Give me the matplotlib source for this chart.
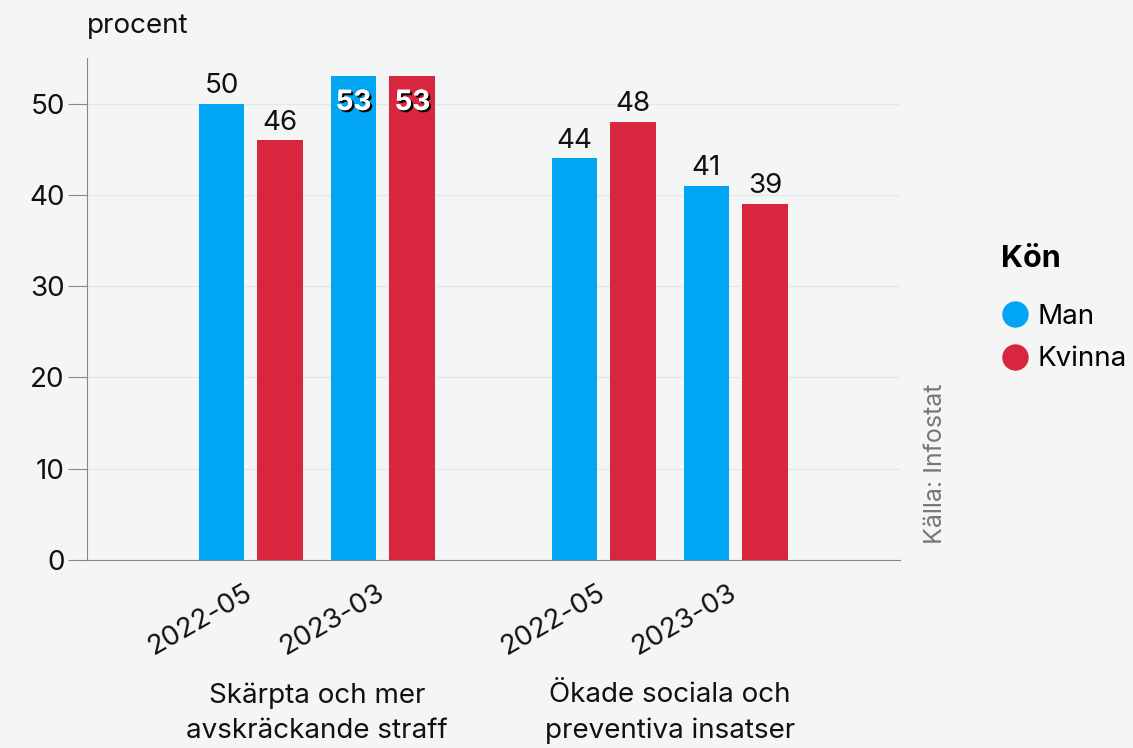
import matplotlib.pyplot as plt
import matplotlib.patheffects as pe
from matplotlib.lines import Line2D
from matplotlib.transforms import ScaledTranslation

plt.rcParams['font.family'] = ['Inter', 'DejaVu Sans']

groups = ['Skärpta och mer\navskräckande straff', 'Ökade sociala och\npreventiva insatser']
periods = ['2022-05', '2023-03', '2022-05', '2023-03']
man = [50, 53, 44, 41]
kvinna = [46, 53, 48, 39]

blue = '#00a6f3'
red = '#d7263d'
bg = '#f3f6f5'
fs = 20

# positions of the sub groups (units of the sub group spacing)
pos = [0, 1, 2.674, 3.674]
off = 0.223
w = 0.348

fig = plt.figure(figsize=(11.33, 7.48), dpi=100, facecolor=bg)
ax = fig.add_axes([87 / 1133, 1 - 560 / 748, 813 / 1133, 502 / 748], facecolor=bg)

b1 = ax.bar([p - off for p in pos], man, w, color=blue, zorder=3)
b2 = ax.bar([p + off for p in pos], kvinna, w, color=red, zorder=3)

for bars, vals in ((b1, man), (b2, kvinna)):
    for b, v in zip(bars, vals):
        x = b.get_x() + b.get_width() / 2
        if v >= 52:
            t = ax.text(x, v - 1.5, f'{v}', ha='center', va='top', fontsize=fs,
                        color='white', fontweight='bold', zorder=4)
            t.set_path_effects([pe.withSimplePatchShadow(offset=(1.5, -1.5), shadow_rgbFace='black', alpha=1),
                                pe.Normal()])
        else:
            ax.text(x, v + 0.5, f'{v}', ha='center', va='bottom', fontsize=fs,
                    color='#111111', zorder=4)

ax.set_xlim(-1.242, 4.917)
ax.set_ylim(0, 55)
ax.set_yticks([0, 10, 20, 30, 40, 50])
ax.tick_params(axis='y', labelsize=fs, length=14, color='#888888', labelcolor='#111111', pad=2)
ax.set_xticks(pos)
ax.set_xticklabels(periods, rotation=30, ha='right', rotation_mode='anchor', fontsize=fs, color='#111111')
ax.tick_params(axis='x', length=0, pad=14)
# nudge the rotated labels a little to the left
shift = ScaledTranslation(-7 / 100, 0, fig.dpi_scale_trans)
for lbl in ax.get_xticklabels():
    lbl.set_transform(lbl.get_transform() + shift)
ax.grid(axis='y', color='#e6e8e8', linewidth=1, zorder=0)
for s in ['top', 'right']:
    ax.spines[s].set_visible(False)
ax.spines['left'].set_color('#888888')
ax.spines['bottom'].set_color('#888888')

ax.text(-1.242, 57.1, 'procent', fontsize=fs, color='#111111', ha='left', va='bottom')

for i, g in enumerate(groups):
    xc = (pos[2 * i] + pos[2 * i + 1]) / 2
    ax.text(xc, -13.4, g, ha='center', va='top', fontsize=fs, color='#111111', linespacing=1.45)

fig.text(935 / 1133, 1 - 464 / 748, 'Källa: Infostat', rotation=90, ha='center', va='center',
         fontsize=18, color='#777777')

handles = [Line2D([], [], marker='o', linestyle='', markersize=18, color=blue, label='Man'),
           Line2D([], [], marker='o', linestyle='', markersize=18, color=red, label='Kvinna')]
leg = fig.legend(handles=handles, title='Kön', loc='upper left', bbox_to_anchor=(1001 / 1133, 1 - 245 / 748),
                 frameon=False, fontsize=fs, title_fontproperties={'weight': 'bold', 'size': 22},
                 handlelength=1.0, handletextpad=0.3, labelspacing=0.6, alignment='left', borderaxespad=0,
                 borderpad=0)
leg._legend_box.sep = 22

fig.savefig('out.png', dpi=100, facecolor=bg)
